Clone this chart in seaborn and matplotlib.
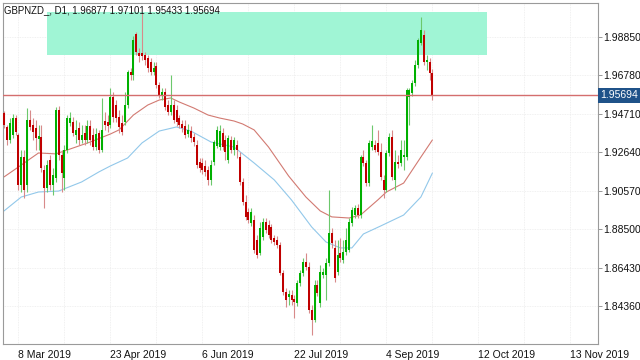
#___________________________________________________________________________________________________________________________________________
# Required Modules
import numpy as np
import pandas as pd
import matplotlib
matplotlib.use("Agg")
import matplotlib.pyplot as plt
import matplotlib.transforms as mtransforms
from matplotlib.patches import Rectangle
import seaborn as sns
#___________________________________________________________________________________________________________________________________________
# Daily candles GBPNZD (one value per bar)
opens = [1.9475, 1.9400, 1.9330, 1.9357, 1.9448, 1.9357, 1.9088, 1.9238, 1.9088, 1.9437,
         1.9410, 1.9394, 1.9335, 1.9346, 1.9168, 1.9072, 1.9222, 1.9088, 1.9125, 1.9491,
         1.9249, 1.9125, 1.9276, 1.9421, 1.9427, 1.9357, 1.9394, 1.9330, 1.9367, 1.9330,
         1.9405, 1.9357, 1.9292, 1.9367, 1.9276, 1.9432, 1.9427, 1.9410, 1.9561, 1.9518,
         1.9454, 1.9421, 1.9427, 1.9518, 1.9696, 1.9679, 1.9900, 1.9798, 1.9798, 1.9787,
         1.9771, 1.9749, 1.9696, 1.9728, 1.9626, 1.9572, 1.9588, 1.9518, 1.9480, 1.9518,
         1.9491, 1.9448, 1.9416, 1.9405, 1.9362, 1.9378, 1.9346, 1.9303, 1.9211, 1.9206,
         1.9190, 1.9168, 1.9115, 1.9211, 1.9298, 1.9292, 1.9367, 1.9330, 1.9222, 1.9330,
         1.9276, 1.9303, 1.9238, 1.9104, 1.8996, 1.8942, 1.8883, 1.8899, 1.8792, 1.8722,
         1.8808, 1.8889, 1.8873, 1.8862, 1.8803, 1.8792, 1.8765, 1.8614, 1.8512, 1.8485,
         1.8496, 1.8474, 1.8453, 1.8560, 1.8614, 1.8673, 1.8647, 1.8415, 1.8361, 1.8550,
         1.8453, 1.8603, 1.8603, 1.8668, 1.8829, 1.8749, 1.8620, 1.8722, 1.8684, 1.8727,
         1.8738, 1.8883, 1.8926, 1.8964, 1.8926, 1.9238, 1.9206, 1.9098, 1.9292, 1.9303,
         1.9314, 1.9265, 1.9115, 1.9061, 1.9260, 1.9346, 1.9115, 1.9211, 1.9206, 1.9238,
         1.9238, 1.9561, 1.9583, 1.9636, 1.9733, 1.9852, 1.9895, 1.9749, 1.9749, 1.96877]
closes = [1.9410, 1.9330, 1.9421, 1.9448, 1.9373, 1.9088, 1.9238, 1.9061, 1.9437, 1.9400,
          1.9373, 1.9341, 1.9351, 1.9179, 1.9072, 1.9195, 1.9088, 1.9141, 1.9491, 1.9249,
          1.9152, 1.9276, 1.9448, 1.9448, 1.9367, 1.9384, 1.9330, 1.9357, 1.9330, 1.9405,
          1.9330, 1.9292, 1.9362, 1.9276, 1.9384, 1.9410, 1.9405, 1.9561, 1.9454, 1.9448,
          1.9400, 1.9373, 1.9518, 1.9696, 1.9679, 1.9868, 1.9803, 1.9782, 1.9782, 1.9760,
          1.9717, 1.9696, 1.9717, 1.9626, 1.9572, 1.9588, 1.9507, 1.9480, 1.9518, 1.9437,
          1.9427, 1.9410, 1.9394, 1.9357, 1.9384, 1.9341, 1.9319, 1.9195, 1.9179, 1.9168,
          1.9158, 1.9115, 1.9195, 1.9319, 1.9384, 1.9378, 1.9292, 1.9265, 1.9341, 1.9276,
          1.9330, 1.9276, 1.9104, 1.8996, 1.8916, 1.8899, 1.8942, 1.8738, 1.8711, 1.8856,
          1.8889, 1.8846, 1.8819, 1.8792, 1.8781, 1.8765, 1.8614, 1.8512, 1.8469, 1.8501,
          1.8469, 1.8458, 1.8560, 1.8614, 1.8673, 1.8647, 1.8415, 1.8361, 1.8550, 1.8507,
          1.8620, 1.8620, 1.8668, 1.8829, 1.8776, 1.8587, 1.8711, 1.8695, 1.8727, 1.8792,
          1.8889, 1.8953, 1.8964, 1.8926, 1.9238, 1.9206, 1.9098, 1.9314, 1.9324, 1.9276,
          1.9265, 1.9131, 1.9061, 1.9260, 1.9346, 1.9131, 1.9211, 1.9201, 1.9276, 1.9249,
          1.9599, 1.9599, 1.9636, 1.9733, 1.9868, 1.9922, 1.9749, 1.9760, 1.9690, 1.95694]
highs = [1.9486, 1.9410, 1.9448, 1.9470, 1.9464, 1.9367, 1.9276, 1.9276, 1.9502, 1.9491,
         1.9448, 1.9437, 1.9410, 1.9410, 1.9195, 1.9222, 1.9249, 1.9179, 1.9507, 1.9513,
         1.9276, 1.9303, 1.9464, 1.9480, 1.9454, 1.9437, 1.9427, 1.9410, 1.9410, 1.9437,
         1.9437, 1.9394, 1.9394, 1.9384, 1.9556, 1.9480, 1.9464, 1.9610, 1.9588, 1.9545,
         1.9491, 1.9464, 1.9588, 1.9706, 1.9717, 1.9889, 1.9911, 1.9825, 2.0013, 1.9803,
         1.9787, 1.9771, 1.9749, 1.9749, 1.9642, 1.9610, 1.9610, 1.9545, 1.9679, 1.9545,
         1.9518, 1.9464, 1.9437, 1.9437, 1.9416, 1.9405, 1.9367, 1.9330, 1.9233, 1.9233,
         1.9222, 1.9190, 1.9222, 1.9330, 1.9405, 1.9410, 1.9394, 1.9357, 1.9357, 1.9351,
         1.9346, 1.9330, 1.9265, 1.9125, 1.9034, 1.8964, 1.8964, 1.8926, 1.8819, 1.8889,
         1.8910, 1.8910, 1.8899, 1.8878, 1.8819, 1.8813, 1.8781, 1.8630, 1.8534, 1.8523,
         1.8523, 1.8496, 1.8577, 1.8630, 1.8695, 1.8722, 1.8673, 1.8442, 1.8577, 1.8577,
         1.8657, 1.8641, 1.8695, 1.9061, 1.8856, 1.8792, 1.8792, 1.8803, 1.8792, 1.8856,
         1.8910, 1.8969, 1.8980, 1.8985, 1.9249, 1.9276, 1.9222, 1.9330, 1.9410, 1.9330,
         1.9384, 1.9314, 1.9141, 1.9276, 1.9367, 1.9384, 1.9276, 1.9249, 1.9330, 1.9330,
         1.9610, 1.9610, 1.9653, 1.9760, 1.9879, 1.9992, 1.9922, 1.9787, 1.9771, 1.97101]
lows = [1.9394, 1.9303, 1.9314, 1.9341, 1.9357, 1.9061, 1.9050, 1.9018, 1.9050, 1.9384,
        1.9330, 1.9276, 1.9276, 1.9158, 1.8964, 1.9050, 1.9061, 1.9034, 1.9104, 1.9222,
        1.9050, 1.9061, 1.9260, 1.9405, 1.9351, 1.9314, 1.9303, 1.9314, 1.9303, 1.9314,
        1.9303, 1.9276, 1.9276, 1.9260, 1.9265, 1.9384, 1.9373, 1.9394, 1.9427, 1.9427,
        1.9367, 1.9357, 1.9410, 1.9502, 1.9653, 1.9653, 1.9787, 1.9749, 1.9760, 1.9733,
        1.9696, 1.9679, 1.9679, 1.9610, 1.9556, 1.9545, 1.9491, 1.9464, 1.9464, 1.9421,
        1.9405, 1.9394, 1.9373, 1.9341, 1.9346, 1.9319, 1.9298, 1.9179, 1.9158, 1.9147,
        1.9136, 1.9088, 1.9088, 1.9195, 1.9287, 1.9276, 1.9276, 1.9222, 1.9206, 1.9260,
        1.9249, 1.9233, 1.9088, 1.8980, 1.8899, 1.8883, 1.8867, 1.8722, 1.8695, 1.8711,
        1.8792, 1.8829, 1.8803, 1.8776, 1.8765, 1.8749, 1.8603, 1.8496, 1.8431, 1.8442,
        1.8442, 1.8372, 1.8437, 1.8544, 1.8598, 1.8630, 1.8399, 1.8281, 1.8351, 1.8491,
        1.8431, 1.8587, 1.8469, 1.8652, 1.8749, 1.8566, 1.8603, 1.8673, 1.8668, 1.8711,
        1.8727, 1.8867, 1.8910, 1.8910, 1.8910, 1.9190, 1.9082, 1.9082, 1.9276, 1.9265,
        1.9249, 1.9115, 1.9018, 1.9050, 1.9244, 1.9115, 1.9061, 1.9179, 1.9190, 1.9168,
        1.9222, 1.9410, 1.9567, 1.9620, 1.9717, 1.9841, 1.9733, 1.9706, 1.9653, 1.95433]

# Moving averages (sampled along the drawn lines)
ma_fast_bar = [0, 6, 12, 18, 22, 30, 37, 40, 45, 50, 54, 58, 61, 66, 71, 75, 80, 83, 87, 92,
               99, 105, 110, 114, 120, 124, 130, 133, 139, 145, 149]
ma_fast = [1.9131, 1.9195, 1.9260, 1.9255, 1.9276, 1.9319, 1.9362, 1.9384, 1.9464, 1.9518,
           1.9545, 1.9556, 1.9534, 1.9502, 1.9464, 1.9448, 1.9432, 1.9416, 1.9384, 1.9292,
           1.9136, 1.9023, 1.8948, 1.8916, 1.8910, 1.8926, 1.9007, 1.9050, 1.9098, 1.9238, 1.9330]
ma_slow_bar = [0, 6, 12, 19, 27, 33, 37, 43, 48, 54, 60, 65, 72, 80, 87, 94, 100, 107, 112,
               117, 121, 125, 131, 139, 145, 149]
ma_slow = [1.8948, 1.9023, 1.9050, 1.9055, 1.9104, 1.9158, 1.9190, 1.9233, 1.9314, 1.9378,
           1.9400, 1.9378, 1.9319, 1.9292, 1.9206, 1.9115, 1.9007, 1.8862, 1.8781, 1.8749,
           1.8749, 1.8824, 1.8867, 1.8926, 1.9023, 1.9152]

# Supply zone rectangle
zone_bars = [15, 168]
zone_prices = [1.9787, 2.0018]

# Axis labels
date_bars = [5, 37, 69, 101, 133, 165, 197]
date_labels = ["8 Mar 2019", "23 Apr 2019", "6 Jun 2019", "22 Jul 2019",
               "4 Sep 2019", "12 Oct 2019", "13 Nov 2019"]
grid_bars = [21, 53, 85, 117, 149, 181]
price_ticks = [1.98850, 1.96780, 1.94710, 1.92640, 1.90570, 1.88500, 1.86430, 1.84360]
#___________________________________________________________________________________________________________________________________________
# DATA PREPARATION
df = pd.DataFrame({"open": opens, "high": highs, "low": lows, "close": closes})
df["bar"] = np.arange(len(df))
up = df["close"] >= df["open"]
body_bottom = np.minimum(df["open"], df["close"])
body_height = np.maximum((df["close"] - df["open"]).abs(), 0.0004)
last_close = closes[-1]
#___________________________________________________________________________________________________________________________________________
# PLOTTING
sns.set_style("white")
plt.rcParams["font.family"] = ["Liberation Sans", "DejaVu Sans"]

fig = plt.figure(figsize=(6.4, 3.6), dpi=100)
ax = fig.add_axes([3 / 640, 16 / 360, 595 / 640, 341 / 360])

ax.add_patch(Rectangle((zone_bars[0], zone_prices[0]), zone_bars[1] - zone_bars[0],
                       zone_prices[1] - zone_prices[0], facecolor="#a0f5d5",
                       edgecolor="none", zorder=1))

sns.lineplot(x=ma_fast_bar, y=ma_fast, ax=ax, color="#d27a72", linewidth=0.8, zorder=2)
sns.lineplot(x=ma_slow_bar, y=ma_slow, ax=ax, color="#92c8ea", linewidth=0.8, zorder=2)

ax.vlines(df["bar"], df["low"], df["high"],
          colors=np.where(up, "#6cc86c", "#d88a8a"), linewidth=0.8, zorder=3)
ax.bar(df["bar"], body_height, bottom=body_bottom, width=0.7,
       color=np.where(up, "#00b000", "#c00000"), linewidth=0, zorder=4)

ax.axhline(last_close, color="#d46e6e", linewidth=1.0, zorder=5)

# axes, ticks, grid
ax.yaxis.tick_right()
ax.set_yticks(price_ticks, [f"{p:.5f}" for p in price_ticks])
ax.set_xticks(date_bars, date_labels)
ax.set_xticks(grid_bars, minor=True)
ax.set_xlim(-0.35, 206.6)
ax.set_ylim(1.8232, 2.0067)
for lbl in ax.get_xticklabels():
    lbl.set_ha("left")
ax.tick_params(axis="both", which="major", direction="out", length=3, width=0.6,
               color="#888888", labelsize=7.5, pad=1, labelcolor="#111111")
ax.tick_params(axis="x", which="minor", length=0)
ax.grid(True, which="both", color="#ececec", linewidth=0.6, linestyle=(0, (1, 1)), zorder=0)
ax.set_axisbelow(True)
for sp in ax.spines.values():
    sp.set_color("#9a9a9a")
    sp.set_linewidth(0.8)
ax.set_xlabel("")
ax.set_ylabel("")

ax.text(1 / 595, 1 - 2 / 341, "GBPNZD_, D1, 1.96877 1.97101 1.95433 1.95694",
        transform=ax.transAxes, ha="left", va="top", fontsize=6.9, color="#111111")

trans = mtransforms.blended_transform_factory(ax.transAxes, ax.transData)
ax.text(1.004, last_close, f"{last_close:.5f}", transform=trans, ha="left", va="center",
        fontsize=7.5, color="white",
        bbox=dict(boxstyle="square,pad=0.2", facecolor="#1f5289", edgecolor="none"))

fig.savefig("out.png", dpi=100)
